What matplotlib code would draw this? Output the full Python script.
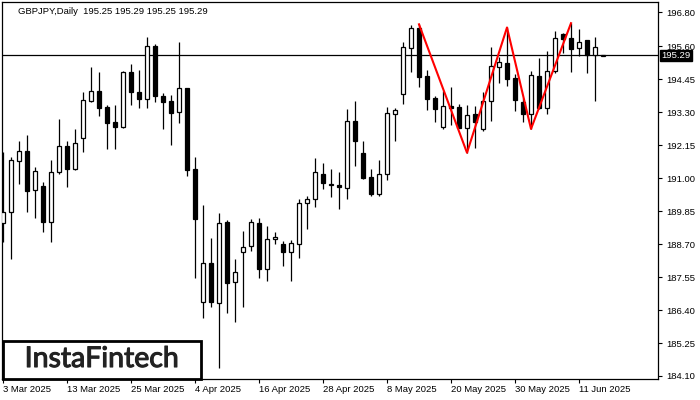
import numpy as np
import pandas as pd
import matplotlib
matplotlib.use('Agg')
import matplotlib.pyplot as plt
from matplotlib.patches import Rectangle
import matplotlib.patheffects as pe

plt.rcParams['font.family'] = 'Liberation Sans'

# ---- data (GBPJPY daily) ----
opens = [189.45, 189.83, 191.61, 191.95, 190.59, 190.73, 189.48, 191.21, 192.11, 191.31,
         192.39, 193.69, 194.04, 193.49, 192.96, 192.78, 194.72, 194.01, 193.77, 195.61,
         193.86, 193.69, 193.30, 194.14, 191.31, 186.69, 188.03, 186.65, 189.46, 187.37,
         188.43, 188.63, 189.43, 187.82, 188.87, 188.69, 188.41, 188.69, 190.12, 190.26,
         191.14, 190.78, 190.76, 190.67, 193.00, 191.87, 191.03, 190.44, 191.14, 193.23,
         193.93, 195.53, 196.23, 194.57, 193.79, 192.78, 193.52, 193.47, 192.76, 193.24,
         192.72, 193.70, 194.89, 195.03, 194.50, 193.66, 193.23, 194.57, 193.46, 194.75,
         196.02, 195.88, 195.53, 195.82, 195.30, 195.25]
highs = [191.92, 191.75, 192.30, 192.51, 191.40, 190.88, 191.63, 193.07, 192.30, 192.72,
         194.02, 194.89, 194.70, 193.55, 193.55, 194.75, 194.99, 194.78, 195.94, 195.69,
         193.96, 193.90, 195.75, 194.16, 191.73, 190.06, 188.90, 189.77, 189.54, 188.17,
         189.16, 189.57, 189.60, 189.33, 189.11, 188.81, 188.84, 190.26, 190.38, 191.69,
         191.52, 191.32, 191.21, 193.41, 193.69, 192.30, 191.31, 191.63, 193.49, 193.46,
         195.74, 196.35, 196.37, 194.78, 193.87, 194.05, 194.18, 193.58, 193.55, 193.52,
         194.02, 195.59, 195.24, 196.26, 194.64, 193.81, 194.74, 195.18, 195.44, 196.14,
         196.08, 196.41, 196.20, 195.84, 195.92, 195.29]
lows = [188.78, 188.18, 190.80, 189.83, 189.62, 189.13, 188.76, 191.15, 190.70, 191.28,
        191.92, 193.65, 193.18, 192.01, 192.01, 192.75, 193.55, 193.44, 193.46, 193.67,
        192.71, 192.16, 192.94, 191.09, 187.51, 186.11, 186.49, 184.37, 186.31, 185.99,
        186.52, 188.47, 187.53, 187.42, 188.69, 187.95, 187.42, 188.23, 189.23, 190.01,
        190.62, 190.35, 189.92, 190.27, 191.44, 190.97, 190.38, 190.38, 190.94, 192.31,
        193.58, 194.72, 194.19, 193.38, 192.97, 192.72, 192.86, 192.74, 191.89, 192.04,
        192.66, 193.01, 194.33, 194.22, 193.36, 192.97, 192.72, 193.43, 193.23, 194.66,
        195.38, 194.72, 195.26, 194.68, 193.70, 195.25]
closes = [189.83, 191.63, 191.95, 190.56, 191.24, 189.48, 191.21, 192.11, 191.31, 192.22,
          193.72, 194.04, 193.46, 192.94, 192.80, 194.70, 194.02, 193.77, 195.61, 193.88,
          193.67, 193.29, 194.14, 191.29, 189.57, 188.03, 186.69, 189.43, 187.33, 187.74,
          188.59, 189.46, 187.82, 188.87, 188.96, 188.43, 188.73, 190.12, 190.26, 191.21,
          190.82, 190.80, 190.70, 193.00, 192.31, 191.02, 190.44, 191.15, 193.26, 193.37,
          195.57, 196.23, 194.54, 193.78, 193.40, 193.52, 193.46, 192.76, 193.21, 192.97,
          193.70, 194.92, 195.04, 194.47, 193.73, 193.25, 194.59, 193.46, 194.74, 195.88,
          195.87, 195.52, 195.77, 195.30, 195.57, 195.29]

# triple-top zigzag (bar index, price)
pattern_idx = [52, 58, 63, 66, 71]
pattern_px = [196.37, 191.89, 196.26, 192.72, 196.41]

last_price = 195.29
y_ticks = [196.80, 195.60, 194.45, 193.30, 192.15, 191.00,
           189.85, 188.70, 187.55, 186.40, 185.25, 184.10]

dates = pd.bdate_range('2025-03-03', periods=len(opens))
x_tick_idx = list(range(0, 73, 8))
x_tick_labels = [f"{dates[i].day} {dates[i].strftime('%b %Y')}" for i in x_tick_idx]

# ---- figure ----
fig = plt.figure(figsize=(7, 4), dpi=100)
ax = fig.add_axes([2/700, 21/400, 656/700, 377/400])

x = np.arange(len(opens))
o = np.array(opens); c = np.array(closes)
h = np.array(highs); l = np.array(lows)
up = c >= o

ax.vlines(x, l, h, color='black', linewidth=0.9, zorder=2)
body_lo = np.minimum(o, c)
body_h = np.abs(c - o)
ax.bar(x, body_h, bottom=body_lo, width=0.55,
       color=np.where(up, 'white', 'black'), edgecolor='black', linewidth=0.9, zorder=3)

ax.axhline(last_price, color='black', linewidth=0.9, zorder=1)
ax.plot(pattern_idx, pattern_px, color='red', linewidth=1.5, zorder=4)

ax.set_xlim(-0.125, 81.875)
ax.set_ylim(183.995, 197.149)

ax.yaxis.tick_right()
ax.set_yticks(y_ticks)
ax.set_yticklabels([f'{v:.2f}' for v in y_ticks])
ax.tick_params(axis='y', direction='out', length=3, width=0.8, pad=3, labelsize=6.8)
ax.set_xticks(x_tick_idx)
ax.set_xticklabels(x_tick_labels)
ax.tick_params(axis='x', direction='out', length=3, width=0.8, pad=1.5, labelsize=6.8)
for lbl in ax.get_xticklabels():
    lbl.set_ha('left')
for sp in ax.spines.values():
    sp.set_linewidth(0.9)
    sp.set_color('black')

ax.annotate(f'{last_price:.2f}', xy=(1, last_price), xycoords=('axes fraction', 'data'),
            xytext=(2.5, 0), textcoords='offset points', va='center', ha='left',
            fontsize=6.8, color='white',
            bbox=dict(boxstyle='square,pad=0.12', fc='black', ec='black'))

fig.text(18/700, 1 - 11/400, 'GBPJPY,Daily  195.25 195.29 195.25 195.29',
         fontsize=6.8, va='center', ha='left')

# logo
ax.add_patch(Rectangle((3/700, 21/400), 198/700, 38/400, transform=fig.transFigure,
                       facecolor='white', edgecolor='black', linewidth=2, zorder=5, clip_on=False))
fig.text(102/700, 1 - 359/400, 'InstaFintech', fontsize=20.5, family='Lato',
         color='#222222', ha='center', va='center', zorder=6,
         path_effects=[pe.withStroke(linewidth=0.8, foreground='#222222')])

fig.savefig('out.png', dpi=100)
